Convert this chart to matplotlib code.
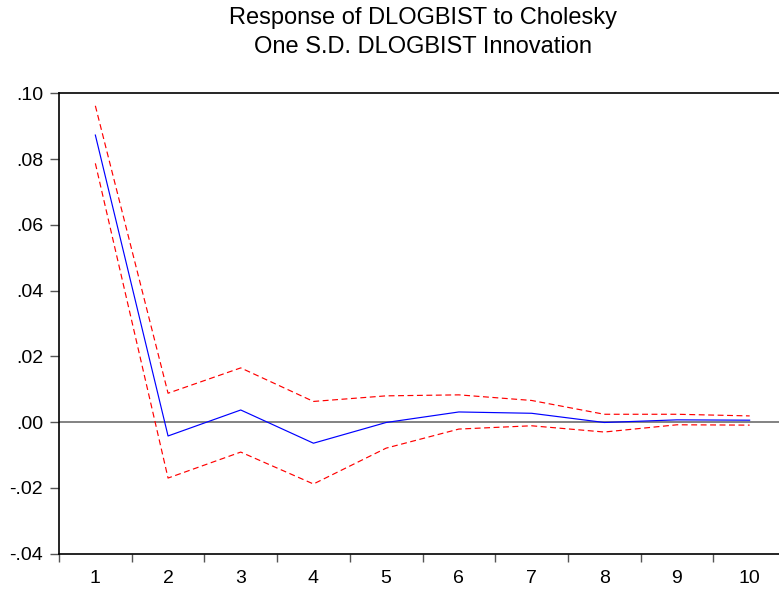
import numpy as np
import matplotlib.pyplot as plt
from matplotlib.ticker import FixedLocator, FuncFormatter

# impulse response
periods = [1, 2, 3, 4, 5, 6, 7, 8, 9, 10]
response = [0.0873, -0.0042, 0.0037, -0.0064, -0.0001, 0.0031, 0.0027, -0.0001, 0.0007, 0.0006]
upper = [0.0962, 0.0088, 0.0165, 0.0063, 0.0080, 0.0083, 0.0066, 0.0024, 0.0024, 0.0019]
lower = [0.0787, -0.0170, -0.0091, -0.0188, -0.0079, -0.0021, -0.0011, -0.0030, -0.0008, -0.0009]
y_ticks = [-0.04, -0.02, 0.00, 0.02, 0.04, 0.06, 0.08, 0.10]
title_lines = ["Response of DLOGBIST to Cholesky", "One S.D. DLOGBIST Innovation"]

plt.rcParams['font.family'] = ['Liberation Sans', 'DejaVu Sans']

fig = plt.figure(figsize=(7.79, 5.94), dpi=100)
ax = fig.add_axes([59 / 779, 1 - 553.7 / 594, 727 / 779, 460.4 / 594])

x = np.arange(len(periods))
ax.axhline(0, color='#606060', lw=1.1, zorder=1)
ax.plot(x, upper, color='#ff0000', lw=0.85, linestyle=(0, (5, 3)), zorder=2)
ax.plot(x, lower, color='#ff0000', lw=0.85, linestyle=(0, (5, 3)), zorder=2)
ax.plot(x, response, color='#0000ff', lw=0.85, zorder=3)

ax.set_xlim(-0.5, len(periods) - 0.5)
ax.set_ylim(-0.04, 0.10)

ax.yaxis.set_major_locator(FixedLocator(y_ticks))
ax.yaxis.set_major_formatter(FuncFormatter(
    lambda v, _: ('-' if v < -1e-9 else '') + ('%.2f' % abs(v)).lstrip('0')))
ax.tick_params(axis='y', direction='out', length=6.5, width=1, color='#555555',
               labelsize=14, pad=5)

ax.set_xticks(x)
ax.set_xticklabels([str(p) for p in periods])
ax.set_xticks(np.arange(len(periods) + 1) - 0.5, minor=True)
ax.tick_params(axis='x', which='major', length=0, labelsize=14, pad=12)
ax.tick_params(axis='x', which='minor', direction='out', length=5.5, width=1,
               color='#555555')

for side in ['left', 'top', 'bottom']:
    ax.spines[side].set_linewidth(1.2)
    ax.spines[side].set_color('black')
ax.spines['right'].set_visible(False)

# two title lines, centred over the (partly cropped) plot area
for line, base in zip(title_lines, [24, 52.7]):
    fig.text(423 / 779, 1 - base / 594, line, fontsize=17, ha='center', va='baseline')

fig.savefig('out.png', dpi=100)
